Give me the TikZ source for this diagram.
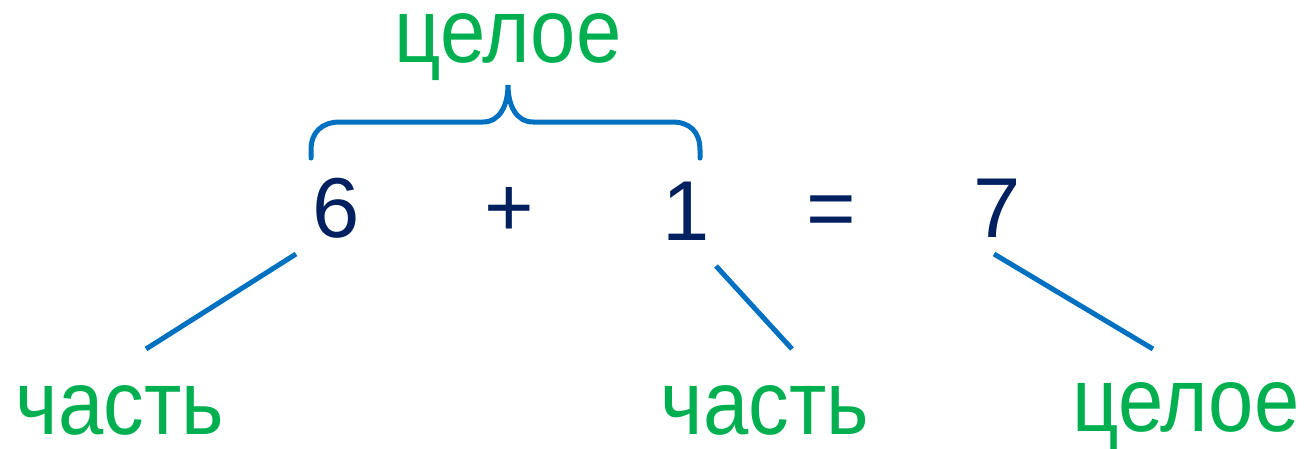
\documentclass[tikz,border=0pt]{standalone}
\usepackage{fontspec}
\setmainfont{Liberation Sans}
\definecolor{grn}{HTML}{00B050}
\definecolor{navy}{HTML}{002060}
\definecolor{lblue}{HTML}{0070C0}
\begin{document}
\begin{tikzpicture}[x=1pt,y=-1pt,
  word/.style={text=grn,inner sep=0pt,anchor=base,font=\fontsize{91}{92}\selectfont,xscale=0.895,text height=50pt,text depth=12pt},
  num/.style={text=navy,inner sep=0pt,anchor=base,font=\fontsize{85}{90}\selectfont},
  conn/.style={draw=lblue,line width=5pt}]
\useasboundingbox (0,0) rectangle (1315,448);
% numbers
\node[num] (six) at (336,237) {6};
\node[num] (plus) at (509,236) {+};
\node[num] (one) at (686,240) {1};
\node[num] (eq) at (831,237) {=};
\node[num] (seven) at (997,237) {7};
% words
\node[word] (whole1) at (508,62) {целое};
\node[word] (part1) at (120,434) {часть};
\node[word] (part2) at (765,434) {часть};
\node[word] (whole2) at (1186,431) {целое};
% connectors
\coordinate (a1) at (296,254); \coordinate (a2) at (146,349);
\coordinate (b1) at (716,266); \coordinate (b2) at (792,349);
\coordinate (c1) at (994,254); \coordinate (c2) at (1153,349);
\draw[conn] (a1) -- (a2);
\draw[conn] (b1) -- (b2);
\draw[conn] (c1) -- (c2);
% brace
\coordinate (bl) at (311,158);
\coordinate (br) at (700,158);
\coordinate (tip) at (508,85);
\draw[conn,line cap=round] (bl) -- (311,150) .. controls (311,132) and (322,122) .. (340,122)
  -- (483,122) .. controls (500,122) and (508,105) .. (tip)
  .. controls (508,105) and (516,122) .. (533,122)
  -- (672,122) .. controls (690,122) and (700,132) .. (700,150) -- (br);
\end{tikzpicture}
\end{document}
